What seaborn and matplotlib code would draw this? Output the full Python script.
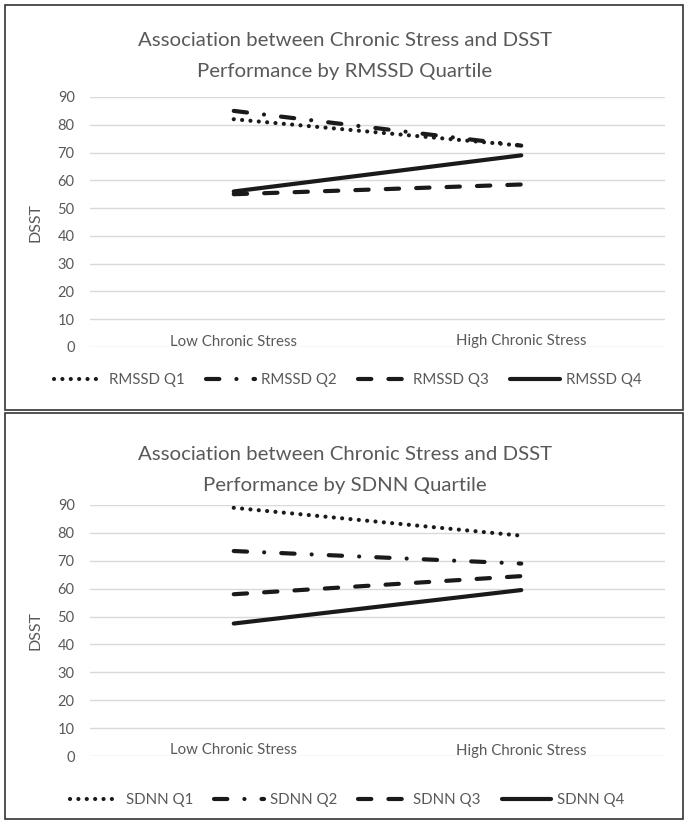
import pandas as pd
import numpy as np
import seaborn as sns
import matplotlib.pyplot as plt
from matplotlib.patches import Rectangle

# data
stress_levels = ['Low Chronic Stress', 'High Chronic Stress']
rmssd_groups = ['RMSSD Q1', 'RMSSD Q2', 'RMSSD Q3', 'RMSSD Q4']
rmssd_q1 = [82, 72.5]
rmssd_q2 = [85, 72.5]
rmssd_q3 = [55, 58.5]
rmssd_q4 = [56, 69]
sdnn_groups = ['SDNN Q1', 'SDNN Q2', 'SDNN Q3', 'SDNN Q4']
sdnn_q1 = [89, 79]
sdnn_q2 = [73.5, 69]
sdnn_q3 = [58, 64.5]
sdnn_q4 = [47.5, 59.5]
y_ticks = [0, 10, 20, 30, 40, 50, 60, 70, 80, 90]

sns.set_theme(style='white')
plt.rcParams['font.family'] = ['Lato', 'DejaVu Sans']
gray = '#595959'
ink = '#1a1a1a'

# dash patterns: dotted, dash-dot, dashed, solid
line_styles = [(0.01, 2.0), (3.2, 4.1, 0.01, 4.1), (3.2, 4.1), '']


def long_form(groups, series):
    rows = []
    for g, vals in zip(groups, series):
        for lvl, v in zip(stress_levels, vals):
            rows.append({'Stress': lvl, 'Group': g, 'DSST': v})
    return pd.DataFrame(rows)


def draw_panel(ax, df, groups, title, title_y, legend_y):
    sns.lineplot(data=df, x='Stress', y='DSST', hue='Group', style='Group',
                 hue_order=groups, style_order=groups,
                 palette=[ink] * 4, dashes=dict(zip(groups, line_styles)),
                 linewidth=3.0, dash_capstyle='round', solid_capstyle='round',
                 sort=False, ax=ax)
    ax.set_xlim(-0.5, 1.5)
    ax.set_ylim(0, 90)
    ax.set_yticks(y_ticks)
    ax.grid(axis='y', color='#d9d9d9', linewidth=1)
    ax.set_axisbelow(True)
    for s in ax.spines.values():
        s.set_visible(False)
    ax.tick_params(axis='y', length=0, pad=11, labelsize=10.5, labelcolor=gray)
    ax.tick_params(axis='x', length=0, pad=-9, labelsize=10.8, labelcolor=gray)
    ax.set_xlabel('')
    ax.set_ylabel('DSST', fontsize=11.5, color=gray)
    ax.yaxis.set_label_coords(-0.082, 0.5)

    handles, labels = ax.get_legend_handles_labels()
    keep = [(h, l) for h, l in zip(handles, labels) if l in groups]
    ax.get_legend().remove()
    ax.legend([h for h, _ in keep], [l for _, l in keep], ncol=4, frameon=False,
              loc='center', bbox_to_anchor=(0.505, legend_y),
              bbox_transform=ax.figure.transFigure, fontsize=10.8,
              labelcolor=gray, handlelength=3.3, handletextpad=0.4,
              columnspacing=1.4)

    ax.figure.text(0.501, title_y, title, ha='center', va='center',
                   fontsize=14.7, color=gray, linespacing=2.0)


fig = plt.figure(figsize=(6.88, 8.24), dpi=100)

ax1 = fig.add_axes([90 / 688, 477 / 824, 575 / 688, 250 / 824])
draw_panel(ax1, long_form(rmssd_groups, [rmssd_q1, rmssd_q2, rmssd_q3, rmssd_q4]),
           rmssd_groups,
           'Association between Chronic Stress and DSST\nPerformance by RMSSD Quartile',
           1 - 56 / 824, 1 - 380 / 824)

ax2 = fig.add_axes([90 / 688, 68 / 824, 575 / 688, 251 / 824])
draw_panel(ax2, long_form(sdnn_groups, [sdnn_q1, sdnn_q2, sdnn_q3, sdnn_q4]),
           sdnn_groups,
           'Association between Chronic Stress and DSST\nPerformance by SDNN Quartile',
           1 - 470 / 824, 1 - 800 / 824)

# panel borders
fig.patches.append(Rectangle((5 / 688, 414 / 824), 678 / 688, 405 / 824,
                             transform=fig.transFigure, fill=False,
                             edgecolor='#333333', linewidth=1.2))
fig.patches.append(Rectangle((5 / 688, 5 / 824), 678 / 688, 406 / 824,
                             transform=fig.transFigure, fill=False,
                             edgecolor='#333333', linewidth=1.2))

plt.savefig('out.png', dpi=100)
